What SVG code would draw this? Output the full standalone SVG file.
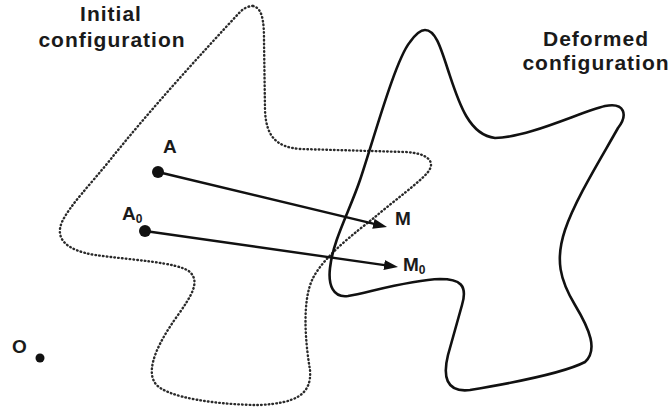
<svg xmlns="http://www.w3.org/2000/svg" width="671" height="412" viewBox="0 0 671 412">
<defs>
<style>
.lbl{font-family:"Liberation Sans",Arial,sans-serif;font-weight:bold;fill:#1a1a1a}
.title{font-size:21px;letter-spacing:1px}
.pt{font-size:19px}
.sub{font-size:12px}
.dotted{fill:none;stroke:#2a2a2a;stroke-width:2.4;stroke-dasharray:0.6 3.2;stroke-linecap:round}
.solid{fill:none;stroke:#111;stroke-width:2.6;stroke-linejoin:round}
.vec{fill:none;stroke:#111;stroke-width:2.4}
.dot{fill:#111}
</style>
<marker id="arr" viewBox="0 0 14 10" refX="4" refY="5" markerWidth="14" markerHeight="10" markerUnits="userSpaceOnUse" orient="auto">
<path d="M0,0 L14,5 L0,10 Z" fill="#111"/>
</marker>
</defs>
<rect width="671" height="412" fill="#fff"/>

<g id="initial-configuration">
<path class="dotted" d="M253,6 C262,8 264,20 264,40 L265,110 C266,135 275,147 300,149 L405,152 C428,153 436,162 428,172 C420,182 395,200 375,217 C355,233 325,255 313,278 C302,300 305,340 310,370 C312,395 295,403 260,405 C220,405 165,398 155,383 C145,368 160,340 178,315 C192,295 200,282 190,272 C178,262 130,260 95,255 C65,250 55,238 62,222 C70,205 90,185 110,160 C150,110 200,55 240,12 C245,7 250,6 253,6 Z"/>
<text class="lbl title" x="111" y="21" text-anchor="middle">Initial</text>
<text class="lbl title" x="112" y="47" text-anchor="middle">configuration</text>
</g>

<g id="deformed-configuration">
<path class="solid" d="M425,30 C435,30 440,45 448,70 C458,100 468,135 495,138 C530,137 580,112 605,106 C625,102 628,115 618,128 C600,160 575,200 565,230 C555,260 560,280 575,305 C590,330 598,350 585,362 C560,375 500,385 470,390 C445,393 443,375 448,355 L462,305 C468,285 460,279 440,279 C410,280 370,292 348,296 C333,298 328,285 330,268 C333,240 350,210 360,180 C372,145 395,60 410,42 C415,35 420,30 425,30 Z"/>
<text class="lbl title" x="596" y="46" text-anchor="middle">Deformed</text>
<text class="lbl title" x="596" y="70" text-anchor="middle">configuration</text>
</g>

<g id="point-A">
<circle class="dot" cx="158" cy="172" r="6"/>
<text class="lbl pt" x="163" y="153">A</text>
</g>
<g id="point-A0">
<circle class="dot" cx="145" cy="231" r="6"/>
<text class="lbl pt" x="122" y="220">A<tspan class="sub" dy="3">0</tspan></text>
</g>
<g id="point-M">
<text class="lbl pt" x="395" y="225">M</text>
</g>
<g id="point-M0">
<text class="lbl pt" x="403" y="271">M<tspan class="sub" dy="3">0</tspan></text>
</g>
<g id="point-O">
<circle class="dot" cx="40" cy="358" r="4.5"/>
<text class="lbl pt" x="12" y="353">O</text>
</g>

<g id="connectors">
<path class="vec" d="M158,172 L377.3,224.7" marker-end="url(#arr)"/>
<path class="vec" d="M145,231 L388.1,265.6" marker-end="url(#arr)"/>
</g>
</svg>
